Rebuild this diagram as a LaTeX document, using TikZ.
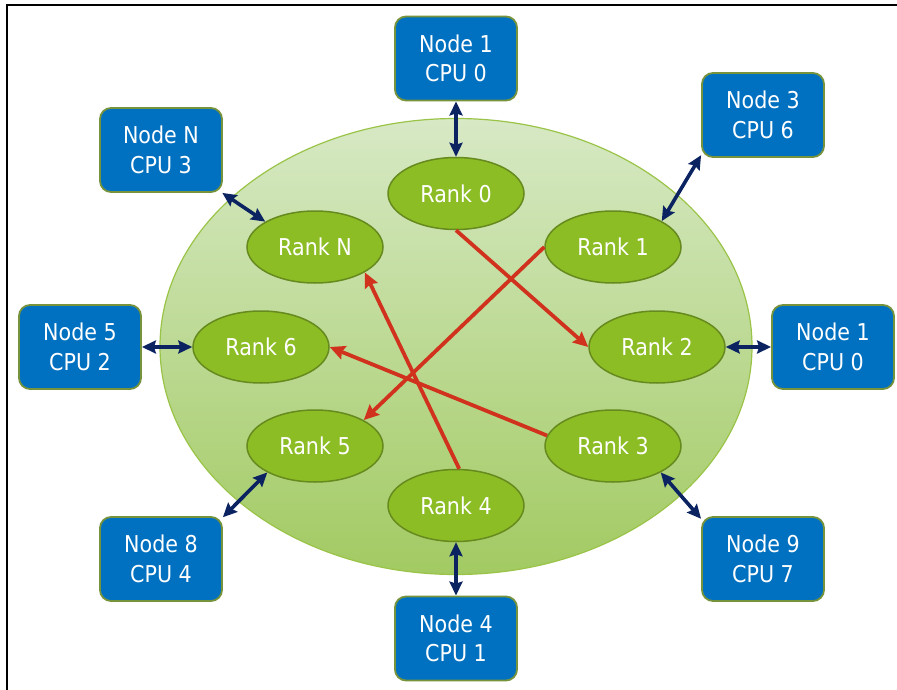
\documentclass[tikz,border=0pt]{standalone}
\usepackage{fontspec}
\setmainfont{DejaVu Sans}[FakeStretch=0.89]
\usetikzlibrary{shapes.geometric,arrows.meta}
\definecolor{boxblue}{HTML}{0070C0}
\definecolor{boxedge}{HTML}{77933C}
\definecolor{rankfill}{HTML}{8CBD25}
\definecolor{rankedge}{HTML}{668A1E}
\definecolor{ringtop}{HTML}{D7E9C5}
\definecolor{ringbot}{HTML}{A2CA62}
\definecolor{ringedge}{HTML}{9AC448}
\definecolor{navy}{HTML}{0B2461}
\definecolor{redline}{HTML}{D0321E}
\tikzset{
  cpubox/.style={draw=boxedge, line width=1.8pt, fill=boxblue, rounded corners=11pt,
    minimum width=122pt, minimum height=84pt, inner sep=0pt, text=white, align=center,
    font=\fontsize{23.2}{29.5}\selectfont},
  rankell/.style={ellipse, draw=rankedge, line width=1.5pt, fill=rankfill,
    minimum width=136pt, minimum height=72pt, inner sep=0pt, text=white,
    font=\fontsize{23.2}{29.5}\selectfont},
  link/.style={draw=navy, line width=3.6pt, {Stealth[length=14pt,width=13pt,inset=2pt]}-{Stealth[length=14pt,width=13pt,inset=2pt]}},
  msg/.style={draw=redline, line width=3.8pt, -{Stealth[length=15pt,width=14pt,inset=2pt]}}
}
\begin{document}
\begin{tikzpicture}[x=1pt,y=-1pt]
\useasboundingbox (0,0) rectangle (897,690);
\draw[black, line width=1.3pt] (7,690) -- (7,5) -- (897,5);
\node[ellipse, draw=ringedge, line width=1.2pt, top color=ringtop, bottom color=ringbot,
  minimum width=592pt, minimum height=456pt, inner sep=0pt] (ring) at (456,346.5) {};
% ranks
\node[rankell] (r0) at (456,193.5) {Rank 0};
\node[rankell] (r1) at (613,247) {Rank 1};
\node[rankell] (r2) at (657,347) {Rank 2};
\node[rankell] (r3) at (613,446) {Rank 3};
\node[rankell] (r4) at (456,505.5) {Rank 4};
\node[rankell] (r5) at (315,446) {Rank 5};
\node[rankell] (r6) at (261,347) {Rank 6};
\node[rankell] (rN) at (315,247) {Rank N};
% cpu boxes
\node[cpubox] (n1) at (456,58.5) {Node 1\\CPU 0};
\node[cpubox] (n3) at (763,115) {Node 3\\CPU 6};
\node[cpubox] (nN) at (161,150) {Node N\\CPU 3};
\node[cpubox] (n5) at (80,347) {Node 5\\CPU 2};
\node[cpubox] (n1b) at (833,347) {Node 1\\CPU 0};
\node[cpubox] (n8) at (161,559) {Node 8\\CPU 4};
\node[cpubox] (n9) at (763,559) {Node 9\\CPU 7};
\node[cpubox] (n4) at (456,638.5) {Node 4\\CPU 1};
% links
\draw[link] (n1.south) -- (r0.north);
\draw[link] (n3.213) -- (r1.28);
\draw[link] (nN.325) -- (rN.153);
\draw[link] (n5.east) -- (r6.west);
\draw[link] (n1b.west) -- (r2.east);
\draw[link] (n8.34) -- (r5.209);
\draw[link] (n9.147) -- (r3.331);
\draw[link] (n4.north) -- (r4.south);
% messages
\draw[msg] (r0.south) -- (r2.west);
\draw[msg] (r1.west) -- (r5.28);
\draw[msg] (r4.85) -- (rN.333);
\draw[msg] (r3.171) -- (r6.east);
\end{tikzpicture}
\end{document}
